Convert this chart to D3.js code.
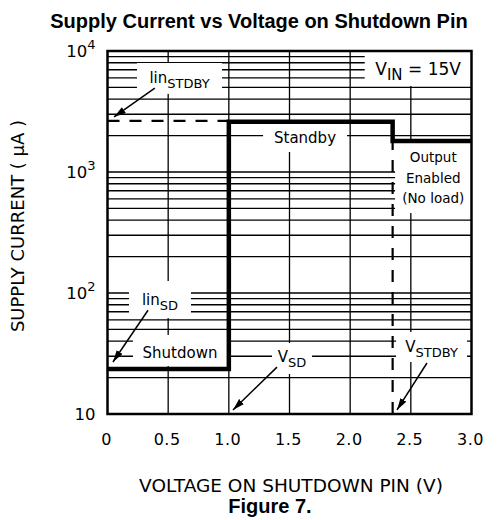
<!DOCTYPE html>
<html>
<head>
<meta charset="utf-8">
<script src="https://cdn.jsdelivr.net/npm/d3@7"></script>
<style>
  body { margin: 0; background: #fff; }
  text { font-family: "DejaVu Sans", sans-serif; fill: #000; }
</style>
</head>
<body>
<div id="chart"></div>
<script>
/** Données */
var xTicks = [0, 0.5, 1.0, 1.5, 2.0, 2.5, 3.0];
var xTickLabels = ["0", "0.5", "1.0", "1.5", "2.0", "2.5", "3.0"];
var yDecades = [10, 100, 1000, 10000];
var yTickBase = ["10", "10", "10", "10"];
var yTickExp = ["", "2", "3", "4"];

// courbe du courant d'alimentation (µA) en fonction de la tension (V)
var supplyV = [0, 1.0, 1.0, 2.35, 2.35, 3.0];
var supplyI = [23.5, 23.5, 2600, 2600, 1800, 1800];
// niveau lin_STDBY (pointillé horizontal)
var stdbyV = [0, 1.0];
var stdbyI = [2650, 2650];
// seuil V_STDBY (pointillé vertical)
var vStdbyV = [2.35, 2.35];
var vStdbyI = [10, 1800];

/** SVG */
var width = 500,
    height = 520;
var margin = { left: 107.5, top: 51, right: 28.5, bottom: 106 };
var w = width - margin.left - margin.right,
    h = height - margin.top - margin.bottom;

var svg = d3.select("#chart").append("svg")
    .attr("width", width)
    .attr("height", height);

var x = d3.scaleLinear().domain([0, 3]).range([0, w]);
var y = d3.scaleLog().domain([10, 10000]).range([h, 0]);

var g = svg.append("g")
    .attr("transform", "translate(" + margin.left + "," + margin.top + ")");

// grille (toutes les sous-divisions log)
g.selectAll(".hgrid")
    .data(y.ticks().filter(function (d) { return d > 10 && d < 10000; }))
    .enter().append("line")
    .attr("x1", 0).attr("x2", w)
    .attr("y1", function (d) { return y(d); })
    .attr("y2", function (d) { return y(d); })
    .attr("stroke", "#000").attr("stroke-width", 1.3);

g.selectAll(".vgrid")
    .data(xTicks.slice(1, -1))
    .enter().append("line")
    .attr("y1", 0).attr("y2", h)
    .attr("x1", function (d) { return x(d); })
    .attr("x2", function (d) { return x(d); })
    .attr("stroke", "#000").attr("stroke-width", 1.3);

// annotations : boîtes blanches qui coupent la grille (coordonnées en données)
var notes = [
    { box: [2.12, 3.0, 10000, 5140], main: "V", sub: "IN", tail: " = 15V", size: 17, dy: [6.5] },
    { box: [0.243, 0.944, 7960, 4420], main: "lin", sub: "STDBY", size: 15, dy: [4.5] },
    { box: [1.282, 1.974, 2540, 1462], lines: ["Standby"], size: 15, dy: [5.5] },
    { box: [2.37, 3.0, 1738, 458], lines: ["Output", "Enabled", "(No load)"], size: 13.5, dy: [-16, 5, 25] },
    { box: [0.177, 0.688, 125.6, 62], main: "lin", sub: "SD", size: 15, dy: [5.5] },
    { box: [0.21, 0.985, 45, 24.9], lines: ["Shutdown"], size: 15, dy: [7.5] },
    { box: [1.356, 1.686, 38.6, 21.4], main: "V", sub: "SD", size: 15, dy: [3.5] },
    { box: [2.378, 2.963, 47.6, 26.9], main: "V", sub: "STDBY", size: 15, dy: [5] }
];

g.selectAll(".knock")
    .data(notes)
    .enter().append("rect")
    .attr("x", function (d) { return x(d.box[0]); })
    .attr("y", function (d) { return y(d.box[2]); })
    .attr("width", function (d) { return x(d.box[1]) - x(d.box[0]); })
    .attr("height", function (d) { return y(d.box[3]) - y(d.box[2]); })
    .attr("fill", "#fff");

// lignes pointillées
var line = d3.line()
    .x(function (d) { return x(d[0]); })
    .y(function (d) { return y(d[1]); });

g.append("path")
    .attr("d", line(d3.zip(stdbyV, stdbyI)))
    .attr("fill", "none").attr("stroke", "#000")
    .attr("stroke-width", 2.2).attr("stroke-dasharray", "12,10");

g.append("path")
    .attr("d", line(d3.zip(vStdbyV, vStdbyI)))
    .attr("fill", "none").attr("stroke", "#000")
    .attr("stroke-width", 2.2).attr("stroke-dasharray", "12,10");

// courbe principale
g.append("path")
    .attr("d", line(d3.zip(supplyV, supplyI)))
    .attr("fill", "none").attr("stroke", "#000")
    .attr("stroke-width", 4.5).attr("stroke-linejoin", "miter");

// cadre
g.append("rect")
    .attr("width", w).attr("height", h)
    .attr("fill", "none").attr("stroke", "#000").attr("stroke-width", 2.5);

// textes des annotations
notes.forEach(function (n) {
    var cx = (x(n.box[0]) + x(n.box[1])) / 2;
    var cy = (y(n.box[2]) + y(n.box[3])) / 2;
    if (n.lines) {
        n.lines.forEach(function (s, i) {
            g.append("text")
                .attr("x", cx).attr("y", cy + n.dy[i])
                .attr("text-anchor", "middle")
                .style("font-size", n.size + "px")
                .text(s);
        });
    } else {
        var t = g.append("text")
            .attr("x", cx).attr("y", cy + n.dy[0])
            .attr("text-anchor", "middle")
            .style("font-size", n.size + "px");
        t.append("tspan").text(n.main);
        t.append("tspan").attr("dy", 5).style("font-size", (n.size - 2) + "px").text(n.sub);
        if (n.tail) t.append("tspan").attr("dy", -5).text(n.tail);
    }
});

// flèches
svg.append("defs").append("marker")
    .attr("id", "arrow")
    .attr("markerUnits", "userSpaceOnUse")
    .attr("markerWidth", 14).attr("markerHeight", 10)
    .attr("refX", 12).attr("refY", 3.5)
    .attr("orient", "auto")
    .append("path")
    .attr("d", "M0,0 L12,3.5 L0,7 Z")
    .attr("fill", "#000");

var arrows = [
    [[0.39, 4940], [0.054, 2850]],
    [[0.334, 72], [0.045, 26.9]],
    [[1.397, 24.4], [1.034, 10.8]],
    [[2.633, 26.4], [2.386, 10.8]]
];

g.selectAll(".arrow")
    .data(arrows)
    .enter().append("path")
    .attr("d", function (d) { return line(d); })
    .attr("stroke", "#000").attr("stroke-width", 1.5)
    .attr("marker-end", "url(#arrow)");

// graduations X
g.selectAll(".xlab")
    .data(xTicks)
    .enter().append("text")
    .attr("x", function (d) { return x(d) - 1; })
    .attr("y", h + 31)
    .attr("text-anchor", "middle")
    .style("font-size", "16px")
    .style("letter-spacing", "0.5px")
    .text(function (d, i) { return xTickLabels[i]; });

// graduations Y (10, 10², 10³, 10⁴)
yDecades.forEach(function (d, i) {
    var t = g.append("text")
        .attr("x", -12)
        .attr("y", y(d) + 6)
        .attr("text-anchor", "end")
        .style("font-size", "16.5px");
    t.append("tspan").text(yTickBase[i]);
    if (yTickExp[i]) {
        t.append("tspan").attr("dy", -8).style("font-size", "13px").text(yTickExp[i]);
    }
});

// titres
svg.append("text")
    .attr("x", 259).attr("y", 28)
    .attr("text-anchor", "middle")
    .style("font-family", "'Liberation Sans', Arial, sans-serif")
    .style("font-weight", "bold")
    .style("font-size", "20px")
    .text("Supply Current vs Voltage on Shutdown Pin");

svg.append("text")
    .attr("transform", "translate(24,226) rotate(-90)")
    .attr("text-anchor", "middle")
    .style("font-size", "18px")
    .text("SUPPLY CURRENT ( \u00B5A )");

svg.append("text")
    .attr("x", 291).attr("y", 492)
    .attr("text-anchor", "middle")
    .style("font-size", "18.5px")
    .text("VOLTAGE ON SHUTDOWN PIN (V)");

svg.append("text")
    .attr("x", 270).attr("y", 513)
    .attr("text-anchor", "middle")
    .style("font-family", "'Liberation Sans', Arial, sans-serif")
    .style("font-weight", "bold")
    .style("font-size", "20px")
    .text("Figure 7.");
</script>
</body>
</html>
